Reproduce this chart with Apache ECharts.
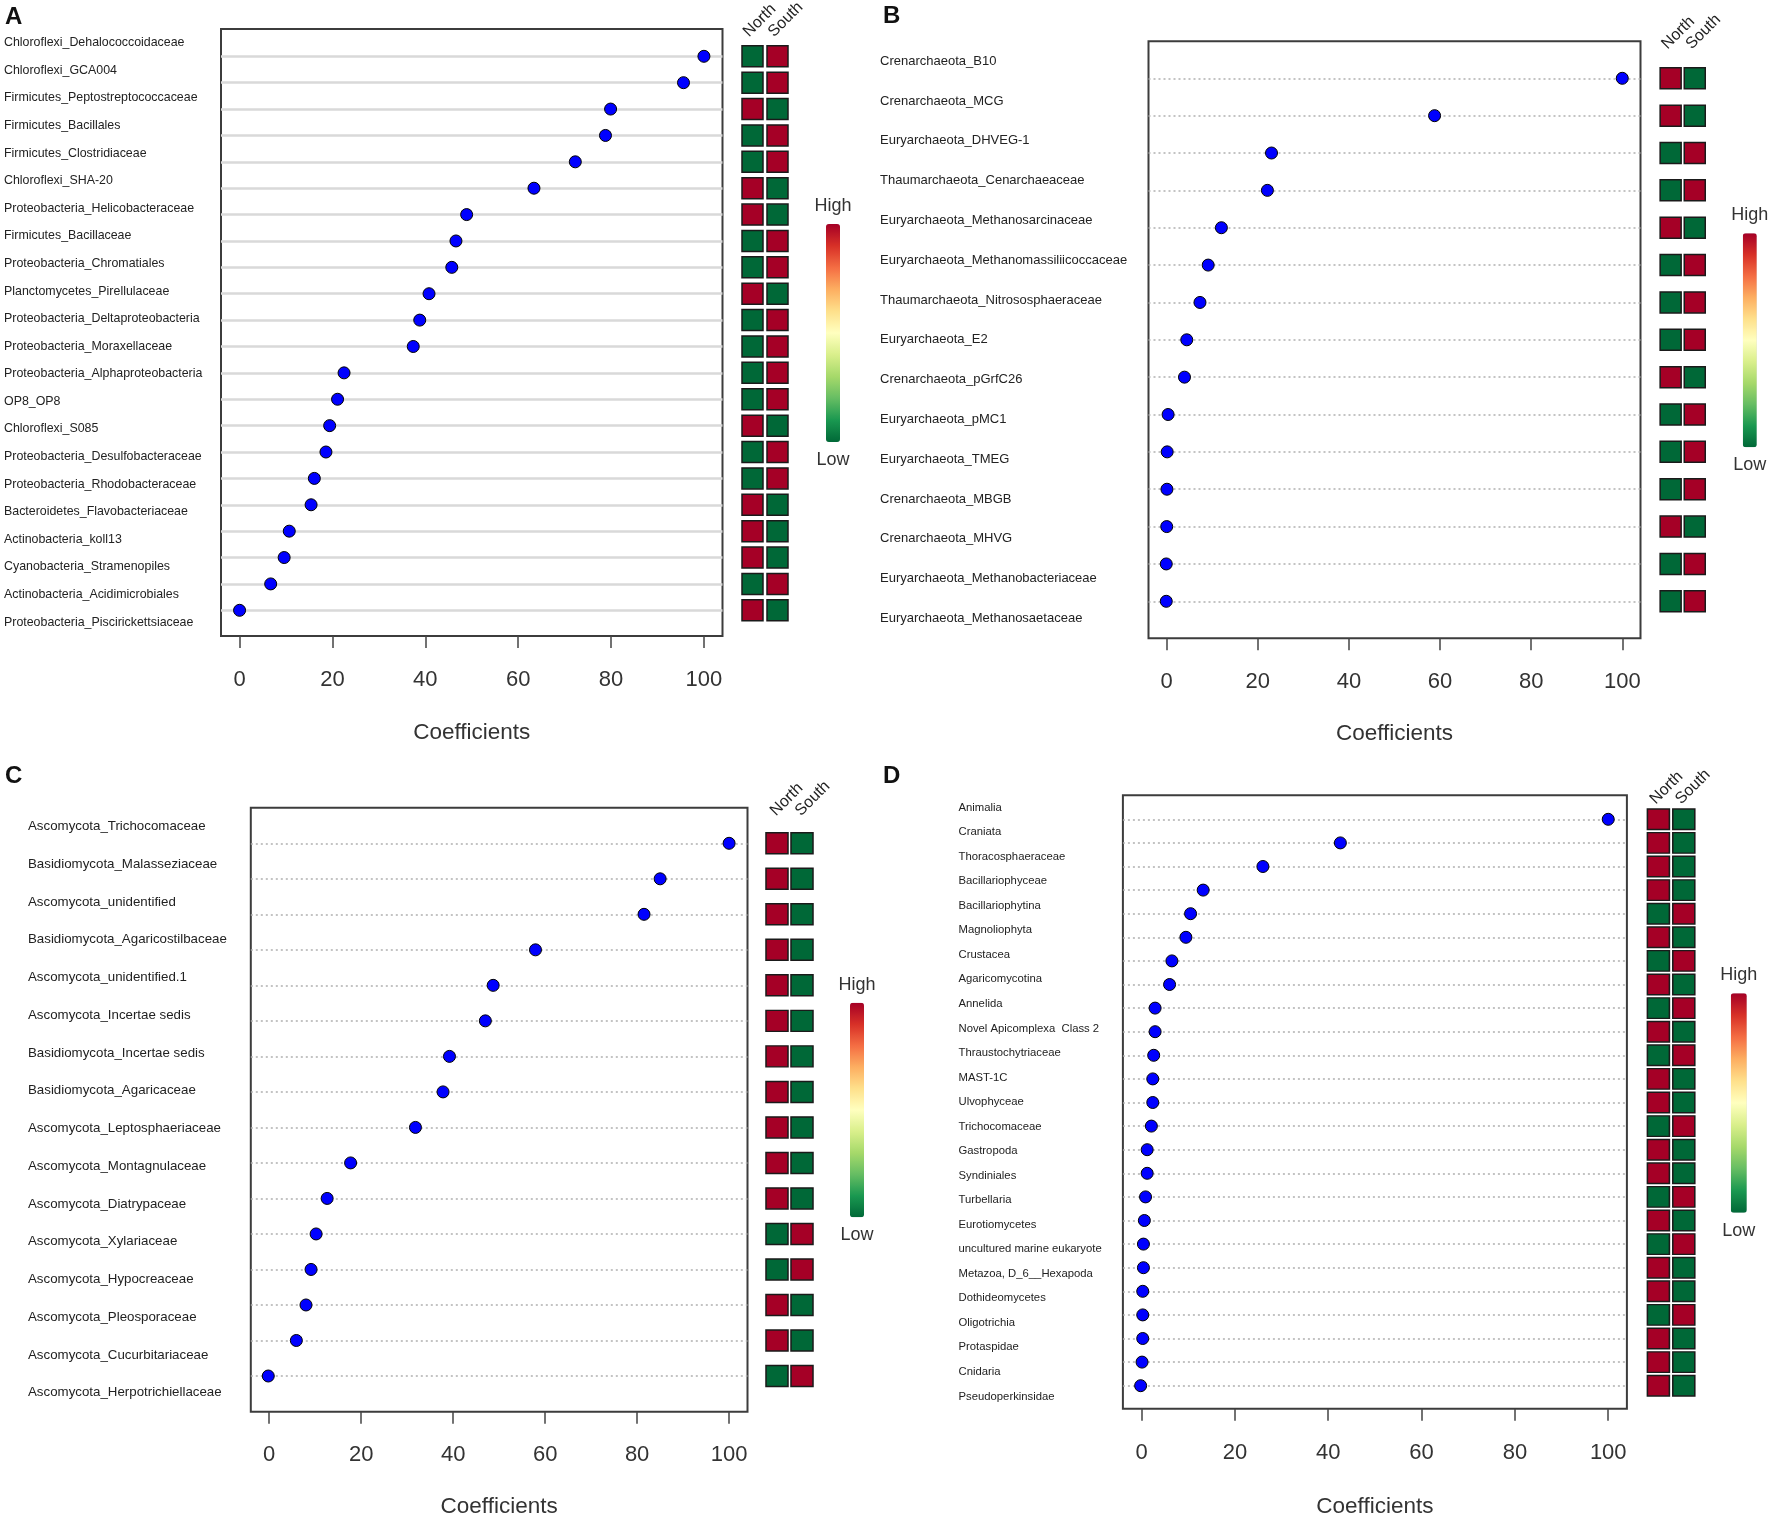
<!DOCTYPE html>
<html>
<head>
<meta charset="utf-8">
<script src="https://cdn.jsdelivr.net/npm/echarts@6/dist/echarts.min.js"></script>
<style>
html,body{margin:0;padding:0;background:#ffffff;}
#chart{width:1772px;height:1518px;}
</style>
</head>
<body>
<div id="chart"></div>
<script>
// ---------------- DATA ----------------
const hmCategories = ['North', 'South'];
const xTickValues = [0, 20, 40, 60, 80, 100];

const aLabels = ['Chloroflexi_Dehalococcoidaceae','Chloroflexi_GCA004','Firmicutes_Peptostreptococcaceae','Firmicutes_Bacillales','Firmicutes_Clostridiaceae','Chloroflexi_SHA-20','Proteobacteria_Helicobacteraceae','Firmicutes_Bacillaceae','Proteobacteria_Chromatiales','Planctomycetes_Pirellulaceae','Proteobacteria_Deltaproteobacteria','Proteobacteria_Moraxellaceae','Proteobacteria_Alphaproteobacteria','OP8_OP8','Chloroflexi_S085','Proteobacteria_Desulfobacteraceae','Proteobacteria_Rhodobacteraceae','Bacteroidetes_Flavobacteriaceae','Actinobacteria_koll13','Cyanobacteria_Stramenopiles','Actinobacteria_Acidimicrobiales','Proteobacteria_Piscirickettsiaceae'];
const aValues = [100, 95.6, 79.9, 78.8, 72.3, 63.4, 48.9, 46.6, 45.7, 40.8, 38.8, 37.4, 22.5, 21.1, 19.4, 18.6, 16.1, 15.4, 10.7, 9.6, 6.7, 0];
const aNorth = [0,0,1,0,0,1,1,0,0,1,0,0,0,0,1,0,0,1,1,1,0,1];
const aSouth = [1,1,0,1,1,0,0,1,1,0,1,1,1,1,0,1,1,0,0,0,1,0];

const bLabels = ['Crenarchaeota_B10','Crenarchaeota_MCG','Euryarchaeota_DHVEG-1','Thaumarchaeota_Cenarchaeaceae','Euryarchaeota_Methanosarcinaceae','Euryarchaeota_Methanomassiliicoccaceae','Thaumarchaeota_Nitrososphaeraceae','Euryarchaeota_E2','Crenarchaeota_pGrfC26','Euryarchaeota_pMC1','Euryarchaeota_TMEG','Crenarchaeota_MBGB','Crenarchaeota_MHVG','Euryarchaeota_Methanobacteriaceae','Euryarchaeota_Methanosaetaceae'];
const bValues = [100, 58.8, 23.0, 22.1, 12.0, 9.1, 7.3, 4.4, 3.9, 0.3, 0.1, 0.05, 0, -0.1, -0.1];
const bNorth = [1,1,0,0,1,0,0,0,1,0,0,0,1,0,0];
const bSouth = [0,0,1,1,0,1,1,1,0,1,1,1,0,1,1];

const cLabels = ['Ascomycota_Trichocomaceae','Basidiomycota_Malasseziaceae','Ascomycota_unidentified','Basidiomycota_Agaricostilbaceae','Ascomycota_unidentified.1','Ascomycota_Incertae sedis','Basidiomycota_Incertae sedis','Basidiomycota_Agaricaceae','Ascomycota_Leptosphaeriaceae','Ascomycota_Montagnulaceae','Ascomycota_Diatrypaceae','Ascomycota_Xylariaceae','Ascomycota_Hypocreaceae','Ascomycota_Pleosporaceae','Ascomycota_Cucurbitariaceae','Ascomycota_Herpotrichiellaceae'];
const cValues = [100, 85.0, 81.5, 57.9, 48.7, 47.0, 39.2, 37.8, 31.8, 17.7, 12.6, 10.2, 9.1, 8.0, 5.9, -0.2];
const cNorth = [1,1,1,1,1,1,1,1,1,1,1,0,0,1,1,0];
const cSouth = [0,0,0,0,0,0,0,0,0,0,0,1,1,0,0,1];

const dLabels = ['Animalia','Craniata','Thoracosphaeraceae','Bacillariophyceae','Bacillariophytina','Magnoliophyta','Crustacea','Agaricomycotina','Annelida','Novel Apicomplexa  Class 2','Thraustochytriaceae','MAST-1C','Ulvophyceae','Trichocomaceae','Gastropoda','Syndiniales','Turbellaria','Eurotiomycetes','uncultured marine eukaryote','Metazoa, D_6__Hexapoda','Dothideomycetes','Oligotrichia','Protaspidae','Cnidaria','Pseudoperkinsidae'];
const dValues = [100, 42.6, 26.0, 13.2, 10.5, 9.5, 6.5, 6.0, 2.9, 2.9, 2.6, 2.4, 2.4, 2.1, 1.2, 1.2, 0.85, 0.6, 0.4, 0.4, 0.25, 0.25, 0.25, 0.1, -0.2];
const dNorth = [1,1,1,1,0,1,0,1,0,1,0,1,1,0,1,1,0,1,0,1,1,0,1,1,1];
const dSouth = [0,0,0,0,1,0,1,0,1,0,1,0,0,1,0,0,1,0,1,0,0,1,0,0,0];

// ---------------- STYLE / LAYOUT ----------------
const FF = "'Liberation Sans', Arial, sans-serif";
const colorRamp = ['#006837','#1a9850','#66bd63','#a6d96a','#d9ef8b','#ffffbf','#fee08b','#fdae61','#f46d43','#d73027','#a50026'];

const layouts = {
  A: {letter:{x:5,y:5}, box:{l:221,r:722.5,t:29,b:636}, dots:{t:56.3,b:610.3}, labelX:4, labelSize:12.4,
      heat:{l:740,w:50}, hdrShift:-1, hdrMargin:16.3, cell:[21,21], bar:{cx:833,w:14,t:224,b:442}, tickMargin:33, nameGap:85, solid:true},
  B: {letter:{x:883,y:4}, box:{l:1148.5,r:1640.5,t:41.3,b:638.3}, dots:{t:78.3,b:601.3}, labelX:880, labelSize:13,
      heat:{l:1658.6,w:48.2}, hdrShift:-0.5, hdrMargin:26, cell:[21,21], bar:{cx:1749.8,w:14,t:233.3,b:447.3}, tickMargin:32.4, nameGap:84, solid:false},
  C: {letter:{x:5,y:764}, box:{l:250.8,r:747.5,t:807.7,b:1411.7}, dots:{t:843.3,b:1376}, labelX:28, labelSize:13.3,
      heat:{l:764.5,w:50}, hdrShift:1.5, hdrMargin:24.3, cell:[22,21], bar:{cx:857,w:14,t:1002.7,b:1217.3}, tickMargin:32.3, nameGap:84, solid:false},
  D: {letter:{x:883,y:764}, box:{l:1122.9,r:1626.9,t:795.3,b:1408.7}, dots:{t:819.3,b:1385.7}, labelX:958.5, labelSize:11.3,
      heat:{l:1645.7,w:50.8}, hdrShift:0, hdrMargin:12, cell:[22,20.5], bar:{cx:1738.8,w:16,t:993.3,b:1212.7}, tickMargin:33.5, nameGap:87, solid:false}
};

function textWidth(t, font) {
  const c = document.createElement('canvas').getContext('2d');
  c.font = font;
  return c.measureText(t).width;
}

const option = {
  backgroundColor: '#ffffff',
  animation: false,
  title: [], grid: [], xAxis: [], yAxis: [], series: [], visualMap: []
};

function addPanel(letter, labels, values, north, south, L) {
  const gi = option.grid.length;
  option.title.push({text: letter, left: L.letter.x, top: L.letter.y, padding: 0,
    textStyle: {fontSize: 24, fontWeight: 'bold', color: '#111', fontFamily: FF}});

  // framed plot area with coefficient axis and taxon labels
  option.grid.push({left: L.box.l, top: L.box.t, width: L.box.r - L.box.l, height: L.box.b - L.box.t,
    show: true, borderColor: '#3c3c3c', borderWidth: 2, backgroundColor: 'rgba(0,0,0,0)',
    containLabel: false, outerBoundsMode: 'none'});
  option.xAxis.push({type: 'value', gridIndex: gi, min: -4, max: 104,
    axisLine: {show: false}, splitLine: {show: false},
    axisTick: {show: true, length: 12, customValues: xTickValues, lineStyle: {color: '#444', width: 1.5}},
    axisLabel: {customValues: xTickValues, margin: L.tickMargin, fontSize: 22, color: '#333', fontFamily: FF},
    name: 'Coefficients', nameLocation: 'middle', nameGap: L.nameGap,
    nameTextStyle: {fontSize: 22.5, color: '#333', fontFamily: FF}});
  option.yAxis.push({type: 'category', gridIndex: gi, data: labels, inverse: true, boundaryGap: true,
    axisLine: {show: false}, axisTick: {show: false}, splitLine: {show: false},
    axisLabel: {interval: 0, align: 'left', margin: L.box.l - L.labelX, fontSize: L.labelSize,
      color: '#222', fontFamily: FF}});

  // dot rows
  option.grid.push({left: L.box.l, top: L.dots.t, width: L.box.r - L.box.l, height: L.dots.b - L.dots.t,
    show: false, containLabel: false, outerBoundsMode: 'none'});
  option.xAxis.push({type: 'value', gridIndex: gi + 1, min: -4, max: 104, show: false});
  option.yAxis.push({type: 'category', gridIndex: gi + 1, data: labels, inverse: true, boundaryGap: false,
    axisLine: {show: false}, axisTick: {show: false}, axisLabel: {show: false},
    splitLine: {show: true, interval: 0,
      lineStyle: L.solid ? {color: '#d9d9d9', width: 2.5, type: 'solid'} : {color: '#b0b0b0', width: 1.5, type: [2, 3]}}});
  option.series.push({type: 'scatter', xAxisIndex: gi + 1, yAxisIndex: gi + 1, symbol: 'circle', symbolSize: 12,
    itemStyle: {color: '#0000ff', borderColor: '#000', borderWidth: 1, opacity: 1},
    data: values.map((v, i) => [v, i]), z: 5});

  // North / South cells
  option.grid.push({left: L.heat.l, top: L.dots.t, width: L.heat.w, height: L.dots.b - L.dots.t,
    show: false, containLabel: false, outerBoundsMode: 'none'});
  option.xAxis.push({type: 'category', gridIndex: gi + 2, data: hmCategories, position: 'top', boundaryGap: true,
    axisLine: {show: false}, axisTick: {show: false}, splitLine: {show: false}, axisLabel: {show: false}});
  option.yAxis.push({type: 'category', gridIndex: gi + 2, data: labels, inverse: true, boundaryGap: false, show: false});
  const heatData = [];
  labels.forEach((_, i) => { heatData.push([0, i, north[i]]); heatData.push([1, i, south[i]]); });
  const si = option.series.length;
  option.series.push({type: 'scatter', xAxisIndex: gi + 2, yAxisIndex: gi + 2, symbol: 'rect', symbolSize: L.cell,
    itemStyle: {borderColor: '#1a1a1a', borderWidth: 1.5, opacity: 1}, data: heatData});

  // rotated column headers
  option.grid.push({left: L.heat.l + L.hdrShift, top: L.dots.t, width: L.heat.w, height: 10,
    show: false, containLabel: false, outerBoundsMode: 'none'});
  option.xAxis.push({type: 'category', gridIndex: gi + 3, data: hmCategories, position: 'top', boundaryGap: true,
    axisLine: {show: false}, axisTick: {show: false}, splitLine: {show: false},
    axisLabel: {interval: 0, rotate: 45, align: 'left', verticalAlign: 'bottom', margin: L.hdrMargin,
      fontSize: 16, color: '#222', fontFamily: FF}});
  option.yAxis.push({type: 'value', gridIndex: gi + 3, show: false});

  // colour key
  const tw = Math.max(textWidth('High', '18px "Liberation Sans"'), textWidth('Low', '18px "Liberation Sans"'), L.bar.w);
  option.visualMap.push({type: 'continuous', min: 0, max: 1, dimension: 2, seriesIndex: si,
    calculable: false, hoverLink: false, orient: 'vertical', padding: 0,
    itemWidth: L.bar.w, itemHeight: L.bar.b - L.bar.t,
    text: ['High', 'Low'], textGap: 9, textStyle: {fontSize: 18, color: '#333', fontFamily: FF},
    inRange: {color: colorRamp},
    left: L.bar.cx - tw / 2, top: L.bar.t - 9 - 18});
}

addPanel('A', aLabels, aValues, aNorth, aSouth, layouts.A);
addPanel('B', bLabels, bValues, bNorth, bSouth, layouts.B);
addPanel('C', cLabels, cValues, cNorth, cSouth, layouts.C);
addPanel('D', dLabels, dValues, dNorth, dSouth, layouts.D);

const chart = echarts.init(document.getElementById('chart'), null, {renderer: 'canvas'});
chart.setOption(option);
</script>
</body>
</html>
